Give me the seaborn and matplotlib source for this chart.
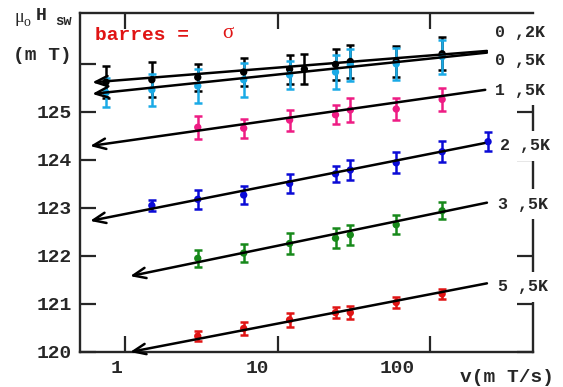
import numpy as np
import pandas as pd
import matplotlib
matplotlib.use("Agg")
import matplotlib.pyplot as plt
import matplotlib.transforms as mtransforms
import seaborn as sns

# --- data ---
temps = ["0 ,2K", "0 ,5K", "1 ,5K", "2 ,5K", "3 ,5K", "5 ,5K"]
colors = ["#000000", "#1aaae6", "#ee1c84", "#0a0ad6", "#17891a", "#e01414"]

v_02 = [0.75, 1.5, 3, 6, 12, 15, 24, 30, 60, 120]
h_02 = [125.62, 125.67, 125.72, 125.83, 125.89, 125.89, 125.99, 126.05, 126.05, 126.21]
e_02 = [0.33, 0.36, 0.28, 0.30, 0.30, 0.31, 0.33, 0.34, 0.33, 0.34]

v_05 = [0.75, 1.5, 3, 6, 12, 24, 30, 60, 120]
h_05 = [125.40, 125.46, 125.54, 125.67, 125.77, 125.83, 125.98, 126.00, 126.15]
e_05 = [0.30, 0.33, 0.35, 0.35, 0.30, 0.35, 0.33, 0.33, 0.35]

v_15 = [3, 6, 12, 24, 30, 60, 120]
h_15 = [124.68, 124.66, 124.83, 124.94, 125.04, 125.06, 125.26]
e_15 = [0.24, 0.20, 0.22, 0.20, 0.24, 0.22, 0.24]

v_25 = [1.5, 3, 6, 12, 24, 30, 60, 120, 240]
h_25 = [123.05, 123.18, 123.27, 123.51, 123.71, 123.79, 123.94, 124.17, 124.38]
e_25 = [0.12, 0.20, 0.18, 0.20, 0.16, 0.20, 0.22, 0.22, 0.20]

v_35 = [3, 6, 12, 24, 30, 60, 120]
h_35 = [121.95, 122.06, 122.26, 122.37, 122.44, 122.65, 122.94]
e_35 = [0.18, 0.18, 0.22, 0.21, 0.21, 0.20, 0.18]

v_55 = [3, 6, 12, 24, 30, 60, 120]
h_55 = [120.33, 120.49, 120.67, 120.82, 120.82, 121.03, 121.21]
e_55 = [0.10, 0.14, 0.15, 0.12, 0.14, 0.12, 0.10]

# fitted lines (arrow tip on the left, end on the right)
fit_v_left = [0.61, 0.61, 0.59, 0.59, 1.08, 1.08]
fit_h_left = [125.615, 125.375, 124.29, 122.73, 121.58, 120.0]
fit_v_right = [236, 236, 230, 227, 236, 236]
fit_h_right = [126.27, 126.235, 125.46, 124.35, 123.11, 121.43]

series_v = [v_02, v_05, v_15, v_25, v_35, v_55]
series_h = [h_02, h_05, h_15, h_25, h_35, h_55]
series_e = [e_02, e_05, e_15, e_25, e_35, e_55]

frames = []
for t, v, h, e in zip(temps, series_v, series_h, series_e):
    frames.append(pd.DataFrame({"T": t, "v": v, "H": h, "err": e}))
df = pd.concat(frames, ignore_index=True)

# --- figure ---
sns.set_style("ticks")
mono = "Liberation Mono"
W, H = 563, 387
fig = plt.figure(figsize=(W / 100, H / 100), dpi=100)
ax = fig.add_axes([80 / W, 1 - 352 / H, (533 - 80) / W, (352 - 13) / H])


def px(x, y):
    return x / W, 1 - y / H


for t, c in zip(temps, colors):
    d = df[df["T"] == t]
    ax.errorbar(d["v"], d["H"], yerr=d["err"], fmt="none", ecolor=c,
                elinewidth=1.8, capsize=3, capthick=1.8, zorder=3)
sns.scatterplot(data=df, x="v", y="H", hue="T", palette=colors, s=28,
                edgecolor="none", legend=False, ax=ax, zorder=4)

for i in range(len(temps)):
    ax.annotate("", xy=(fit_v_left[i], fit_h_left[i]),
                xytext=(fit_v_right[i], fit_h_right[i]),
                arrowprops=dict(arrowstyle="->,head_length=0.6,head_width=0.25",
                                lw=1.8, color="black", mutation_scale=15,
                                shrinkA=0, shrinkB=0),
                zorder=5, annotation_clip=False)

ax.set_xscale("log")
ax.set_xlim(0.507, 473)
ax.set_ylim(120, 127.06)
ax.set_xlabel("")
ax.set_ylabel("")
ax.minorticks_off()

ax.set_xticks([1, 10, 100])
ax.set_xticklabels(["1", "10", "100"])
ax.set_yticks([120, 121, 122, 123, 124, 125, 126])
ax.set_yticklabels(["120", "121", "122", "123", "124", "125", ""])
ax.tick_params(direction="in", length=11.5, width=1.6, top=True, right=True,
               labelsize=14)
ax.tick_params(axis="x", pad=6)
ax.tick_params(axis="y", pad=6)
for lab in ax.get_xticklabels() + ax.get_yticklabels():
    lab.set_fontfamily(mono)
    lab.set_fontweight("bold")

# shift x tick labels to the left as in the reference
x_shift = [-8, -20, -33]
for lab, dx in zip(ax.get_xticklabels(), x_shift):
    lab.set_transform(lab.get_transform() +
                      mtransforms.ScaledTranslation(dx / 100, 0, fig.dpi_scale_trans))

for s in ax.spines.values():
    s.set_linewidth(1.7)
ax.spines["right"].set_bounds(120, 125.25)

# temperature labels on the right
label_pos = [(495, 32), (495, 61), (495, 90), (500, 146), (498, 204), (498, 287)]
for t, (x, y) in zip(temps, label_pos):
    fig.text(*px(x, y), t, fontfamily=mono, fontweight="bold", fontsize=12,
             va="center", ha="left",
             bbox=dict(boxstyle="square,pad=0.45", fc="white", ec="none"))

# axis labels
fig.text(*px(460, 377), "v(m T/s)", fontfamily=mono, fontweight="bold",
         fontsize=14, va="center", ha="left")
fig.text(*px(14, 18), "μ", fontfamily="Liberation Serif", fontsize=13,
         va="center", ha="left")
fig.text(*px(24, 23), "o", fontfamily="Liberation Serif", fontsize=10,
         va="center", ha="left")
fig.text(*px(36, 16), "H", fontfamily=mono, fontweight="bold", fontsize=13,
         va="center", ha="left")
fig.text(*px(55, 21), "sw", fontfamily=mono, fontweight="bold", fontsize=10,
         va="center", ha="left")
fig.text(*px(13, 55), "(m T)", fontfamily=mono, fontweight="bold",
         fontsize=14, va="center", ha="left")

# legend note
fig.text(*px(95, 36), "barres =", fontfamily=mono, fontweight="bold",
         fontsize=14, color="#e01414", va="center", ha="left")
fig.text(*px(222, 34), "σ", fontfamily="Liberation Serif", fontsize=15,
         color="#e01414", va="center", ha="left")

fig.savefig("out.png", dpi=100)
